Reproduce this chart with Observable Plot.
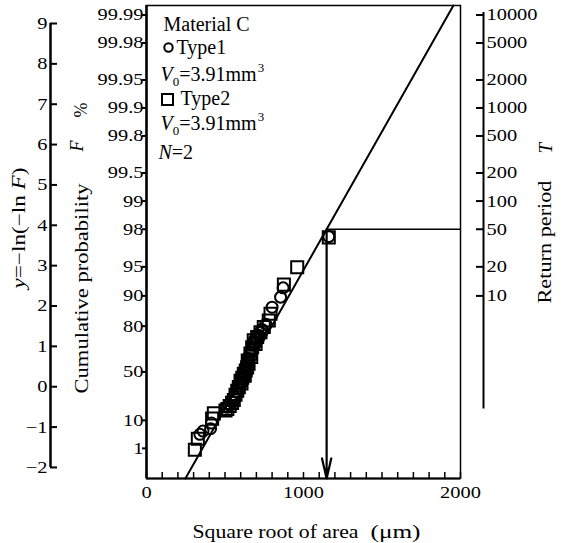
<!DOCTYPE html>
<html><head><meta charset="utf-8">
<script src="https://cdn.jsdelivr.net/npm/d3@7"></script>
<script src="https://cdn.jsdelivr.net/npm/@observablehq/plot@0.6"></script>
<style>
body{margin:0;background:#fff}
svg{font-family:"Liberation Serif","Times New Roman",serif}
</style>
</head><body><div id="chart"></div>
<script>
// ---- data ----
// Type1 (circles): square root of area (µm) and reduced variate y = -ln(-ln F)
const type1Area = [340, 360, 408, 414, 514, 525, 545, 560, 575, 582, 592, 598, 605, 615, 622, 628, 633, 638, 648, 652, 658, 664, 668, 676, 684, 690, 700, 712, 725, 735, 760, 800, 854, 870, 1161];
const type1Y    = [-1.18, -1.1, -1.04, -0.9, -0.51, -0.45, -0.38, -0.25, -0.12, -0.05, 0.02, 0.1, 0.2, 0.3, 0.36, 0.42, 0.48, 0.55, 0.7, 0.62, 0.8, 0.86, 0.92, 1.05, 1.1, 1.18, 1.22, 1.28, 1.35, 1.42, 1.55, 1.97, 2.22, 2.45, 3.72];
// Type2 (squares)
const type2Area = [308, 327, 418, 429, 503, 515, 530, 545, 556, 567, 578, 588, 599, 605, 610, 620, 626, 632, 641, 645, 650, 662, 667, 673, 683, 695, 705, 726, 747, 779, 790, 875, 960, 1161];
const type2Y    = [-1.56, -1.29, -0.79, -0.66, -0.59, -0.55, -0.48, -0.4, -0.33, -0.2, -0.1, -0.01, 0.15, 0.08, 0.22, 0.32, 0.27, 0.4, 0.48, 0.65, 0.57, 0.82, 0.74, 0.98, 1.15, 1.06, 1.23, 1.35, 1.48, 1.64, 1.81, 2.53, 2.96, 3.70];
// fitted Gumbel line: x = fitX0 + y / fitSlope
const fitX0 = 579;
const fitSlope = 0.006866;
// return-period read-off
const returnT = 50;
// axis ticks
const leftTicks = [-2, -1, 0, 1, 2, 3, 4, 5, 6, 7, 8, 9];
const probTicks = [1, 10, 50, 80, 90, 95, 98, 99, 99.5, 99.8, 99.9, 99.95, 99.98, 99.99];
const returnTicks = [10, 20, 50, 100, 200, 500, 1000, 2000, 5000, 10000];
const xLabelTicks = [0, 1000, 2000];
const xMinorTicks = d3.range(0, 2001, 100);
const yDomain = [-2.274, 9.446];
const xDomain = [0, 2000];
const rightAxisSpan = [-0.55, 9.27];

// ---- helpers ----
const gumbel = p => -Math.log(-Math.log(p));
const type1 = type1Area.map((x, i) => ({x, y: type1Y[i]}));
const type2 = type2Area.map((x, i) => ({x, y: type2Y[i]}));
const fitPts = yDomain.map(y => ({x: fitX0 + y / fitSlope, y}));
const yT = gumbel(1 - 1 / returnT);
const xT = fitX0 + yT / fitSlope;
const probPos = probTicks.map(p => gumbel(p / 100));
const probLabel = new Map(probPos.map((v, i) => [v, String(probTicks[i])]));
const retPos = returnTicks.map(t => gumbel(1 - 1 / t));
const retLabel = new Map(retPos.map((v, i) => [v, String(returnTicks[i])]));

const TL = {frameAnchor: "top-left", lineAnchor: "middle", text: d => d};
const svg = Plot.plot({
  width: 561, height: 543,
  marginLeft: 146, marginRight: 101, marginTop: 5, marginBottom: 65,
  style: {fontFamily: "Liberation Serif, serif", fontSize: "17px", background: "white", color: "black", overflow: "visible"},
  x: {domain: xDomain},
  y: {domain: yDomain},
  marks: [
    Plot.frame({stroke: "black", strokeWidth: 1.5}),
    Plot.ruleX([0], {stroke: "black", strokeWidth: 2.5}),
    Plot.ruleY([yDomain[0]], {stroke: "black", strokeWidth: 2}),
    // x axis
    Plot.axisX({ticks: xMinorTicks, tickSize: -6, fill: "none", label: null, strokeWidth: 1.5}),
    Plot.axisX({ticks: xLabelTicks, tickSize: 0, tickPadding: 7, tickFormat: d => String(d), label: null, fontSize: 17}),
    // cumulative probability axis (frame left)
    Plot.axisY({anchor: "left", ticks: probPos, tickSize: 4, fill: "none", label: null, strokeWidth: 2}),
    Plot.axisY({anchor: "left", ticks: probPos, tickSize: 0, tickPadding: 3, tickFormat: d => probLabel.get(d), label: null, fontSize: 17}),
    // y = -ln(-ln F) axis (far left)
    Plot.ruleX([0], {y1: leftTicks[0], y2: leftTicks[leftTicks.length - 1], dx: -96, stroke: "black", strokeWidth: 2.5}),
    Plot.axisY({anchor: "left", ticks: leftTicks, dx: -96, tickSize: -7, fill: "none", label: null, strokeWidth: 2}),
    Plot.axisY({anchor: "left", ticks: leftTicks, dx: -96, tickSize: 0, tickPadding: 3, label: null, fontSize: 17}),
    // return period axis (right)
    Plot.ruleX([xDomain[1]], {y1: rightAxisSpan[0], y2: rightAxisSpan[1], dx: 23, stroke: "black", strokeWidth: 2}),
    Plot.axisY({anchor: "left", ticks: retPos, dx: 337, tickSize: 7, fill: "none", label: null, strokeWidth: 2}),
    Plot.axisY({anchor: "right", ticks: retPos, dx: 23, tickSize: 0, tickPadding: 3, tickFormat: d => retLabel.get(d), label: null, fontSize: 17}),
    // fitted line and read-off
    Plot.line(fitPts, {x: "x", y: "y", stroke: "black", strokeWidth: 2}),
    Plot.ruleY([yT], {x1: xT, x2: xDomain[1], stroke: "black", strokeWidth: 1.5}),
    Plot.arrow([{x: xT}], {x1: "x", x2: "x", y1: () => yT, y2: () => yDomain[0], stroke: "black", strokeWidth: 2.2, headLength: 14, headAngle: 26, insetEnd: 0}),
    // data
    Plot.dot(type1, {x: "x", y: "y", symbol: "circle", r: 5.5, stroke: "black", strokeWidth: 2, fill: "none"}),
    Plot.dot(type2, {x: "x", y: "y", symbol: "square", r: 6.8, stroke: "black", strokeWidth: 2, fill: "none"}),
    // legend
    Plot.text(["Material C"], {...TL, dx: 17, dy: 19, textAnchor: "start", fontSize: 20}),
    Plot.dot([0], {frameAnchor: "top-left", dx: 22, dy: 42, symbol: "circle", r: 4.2, stroke: "black", strokeWidth: 2, fill: "none"}),
    Plot.text(["Type1"], {...TL, dx: 30, dy: 42, textAnchor: "start", fontSize: 20}),
    Plot.text(["V0=3.91mm3"], {...TL, dx: 14, dy: 69, textAnchor: "start", fontSize: 20}),
    Plot.dot([0], {frameAnchor: "top-left", dx: 21, dy: 94, symbol: "square", r: 6.2, stroke: "black", strokeWidth: 2, fill: "none"}),
    Plot.text(["Type2"], {...TL, dx: 34, dy: 93, textAnchor: "start", fontSize: 20}),
    Plot.text(["V0=3.91mm3"], {...TL, dx: 14, dy: 118, textAnchor: "start", fontSize: 20}),
    Plot.text(["N=2"], {...TL, dx: 12, dy: 147, textAnchor: "start", fontSize: 20}),
    // axis titles (rotated ones anchored at their bottom end)
    Plot.text(["y=\u2212ln(\u2212ln F)"], {...TL, dx: -127, dy: 283, rotate: -90, textAnchor: "start", fontSize: 18}),
    Plot.text(["Cumulative probability"], {...TL, dx: -64, dy: 388, rotate: -90, textAnchor: "start", fontSize: 18}),
    Plot.text(["F"], {...TL, dx: -69, dy: 146, rotate: -90, textAnchor: "start", fontSize: 18, fontStyle: "italic"}),
    Plot.text(["%"], {...TL, dx: -65, dy: 112, rotate: -90, textAnchor: "start", fontSize: 18}),
    Plot.text(["Return period"], {...TL, dx: 399, dy: 298, rotate: -90, textAnchor: "start", fontSize: 18}),
    Plot.text(["T"], {...TL, dx: 399, dy: 148, rotate: -90, textAnchor: "start", fontSize: 19, fontStyle: "italic"}),
    Plot.text(["Square root of area"], {...TL, dx: 46, dy: 526, textAnchor: "start", fontSize: 19}),
    Plot.text(["(\u03bcm)"], {...TL, dx: 224, dy: 526, textAnchor: "start", fontSize: 19})
  ]
});
document.getElementById("chart").append(svg);

// rich text (italics, sub/superscripts)
const IT = {"font-style": "italic"};
const rich = {
  "V0=3.91mm3": [["V", IT], ["0", {"font-size": 13, dy: 5}], ["=3.91mm", {dy: -5}], ["3", {"font-size": 13, dy: -9, dx: 1}]],
  "N=2": [["N", IT], ["=2", {}]],
  "y=\u2212ln(\u2212ln F)": [["y", IT], ["=\u2212ln(\u2212ln ", {}], ["F", IT], [")", {}]]
};
const targetWidth = {
  "Square root of area": 166, "(\u03bcm)": 50, "Cumulative probability": 210,
  "Return period": 123, "y=\u2212ln(\u2212ln F)": 121
};
svg.querySelectorAll("text").forEach(t => {
  const s = t.textContent;
  if (rich[s]) {
    t.textContent = "";
    for (const [str, attrs] of rich[s]) {
      const ts = document.createElementNS("http://www.w3.org/2000/svg", "tspan");
      ts.textContent = str;
      for (const k in attrs) ts.setAttribute(k, attrs[k]);
      t.appendChild(ts);
    }
  }
  const g = t.closest("g[aria-label]");
  const isTick = g && /tick label/.test(g.getAttribute("aria-label"));
  const L = t.getComputedTextLength();
  let target = null;
  if (targetWidth[s]) target = targetWidth[s];
  else if (isTick) target = L * 1.2;
  if (target && L > 0) {
    t.setAttribute("textLength", target);
    t.setAttribute("lengthAdjust", "spacingAndGlyphs");
  }
});
</script>
</body></html>
